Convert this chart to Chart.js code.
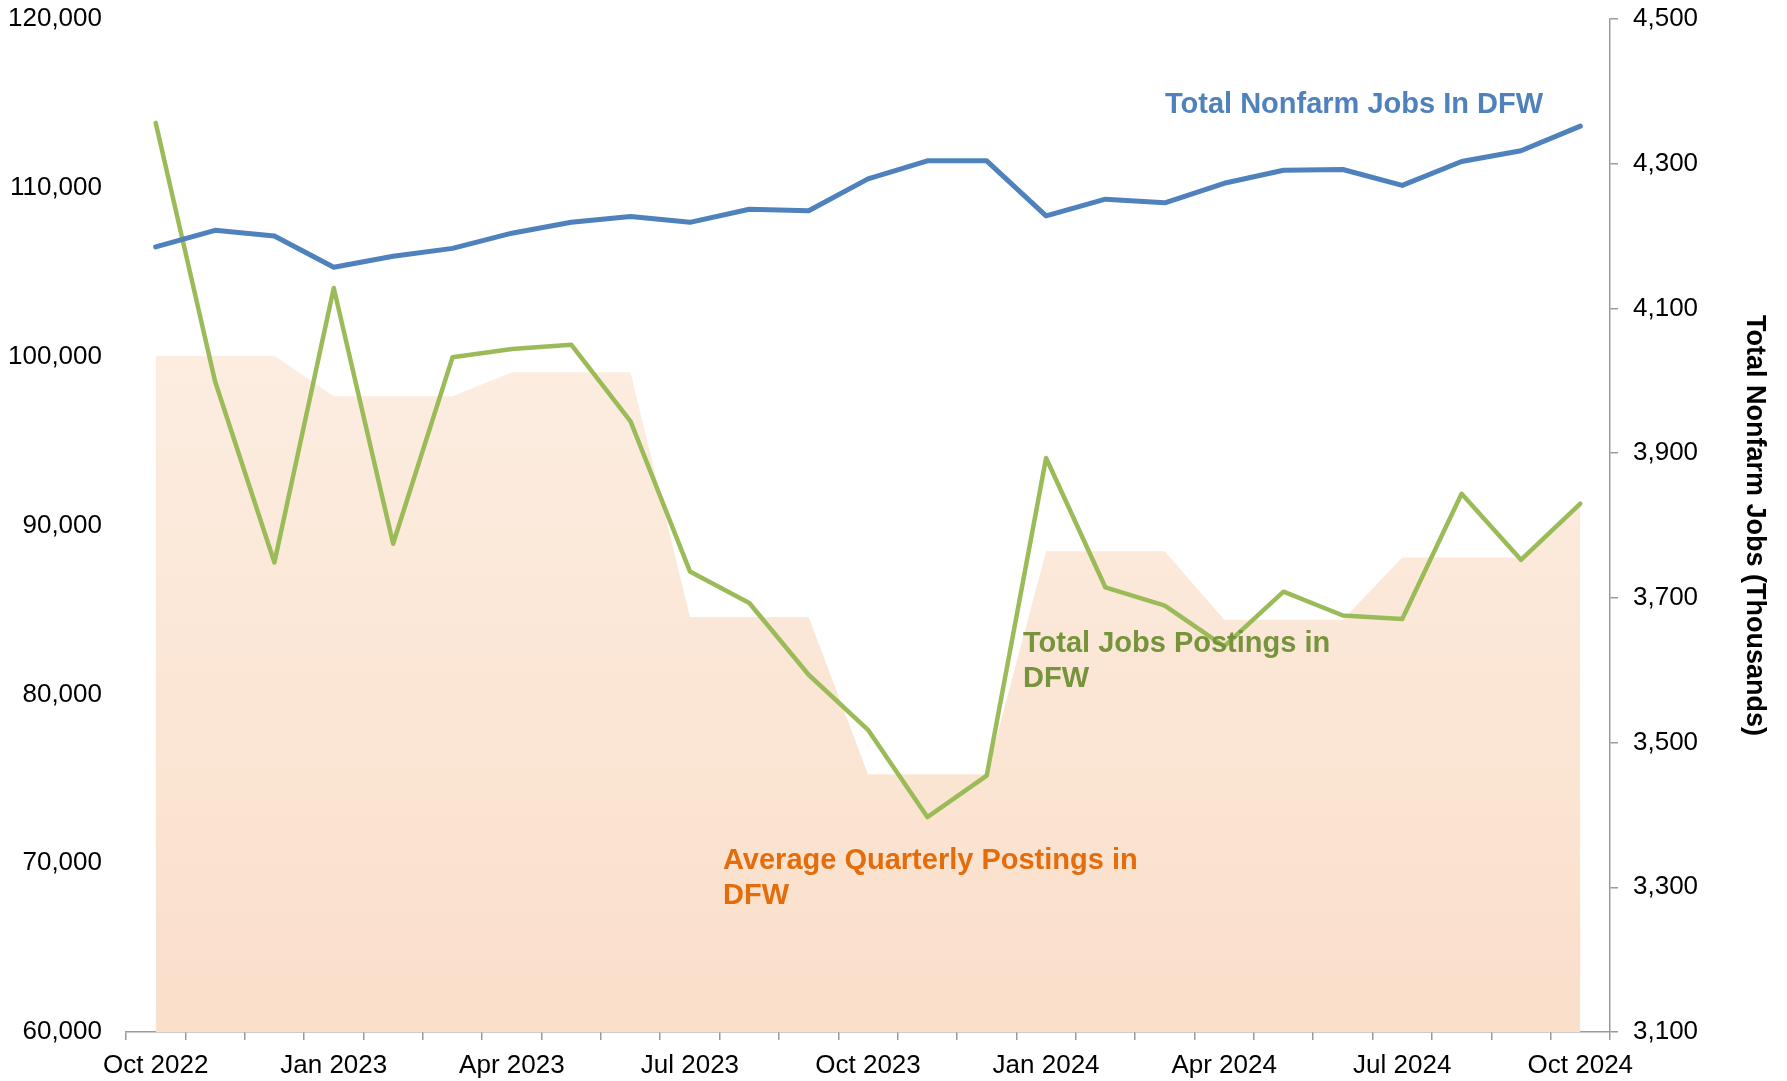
<!DOCTYPE html>
<html>
<head>
<meta charset="utf-8">
<title>DFW Job Postings and Nonfarm Jobs</title>
<script src="https://cdn.jsdelivr.net/npm/chart.js@4/dist/chart.umd.min.js"></script>
<style>
  html, body { margin: 0; padding: 0; background: #ffffff; }
  #wrap { width: 1787px; height: 1081px; position: relative; }
</style>
</head>
<body>
<div id="wrap"><canvas id="chart" width="1787" height="1081"></canvas></div>
<script>
// Monthly categories, Oct 2022 through Oct 2024
const months = [
  'Oct 2022', 'Nov 2022', 'Dec 2022',
  'Jan 2023', 'Feb 2023', 'Mar 2023',
  'Apr 2023', 'May 2023', 'Jun 2023',
  'Jul 2023', 'Aug 2023', 'Sep 2023',
  'Oct 2023', 'Nov 2023', 'Dec 2023',
  'Jan 2024', 'Feb 2024', 'Mar 2024',
  'Apr 2024', 'May 2024', 'Jun 2024',
  'Jul 2024', 'Aug 2024', 'Sep 2024',
  'Oct 2024'
];

// Total job postings in DFW (left axis)
const jobPostings = [
  113850, 98540, 87810,
  104070, 88920, 99960,
  100460, 100710, 96170,
  87280, 85410, 81160,
  77900, 72730, 75180,
  94000, 86330, 85250,
  82840, 86080, 84670,
  84460, 91880, 87970,
  91290
];

// Average quarterly postings in DFW, repeated for each month of the quarter (left axis)
const quarterlyAvgPostings = [
  100060, 100060, 100060,
  97650, 97650, 97650,
  99080, 99080, 99080,
  84580, 84580, 84580,
  75260, 75260, 75260,
  88470, 88470, 88470,
  84420, 84420, 84420,
  88110, 88110, 88110,
  91290
];

// Total nonfarm jobs in DFW, thousands (right axis)
const nonfarmJobs = [
  4185, 4208, 4200,
  4157, 4172, 4183,
  4204, 4219, 4227,
  4219, 4237, 4235,
  4279, 4304, 4304,
  4228, 4251, 4246,
  4273, 4291, 4292,
  4270, 4303, 4318,
  4352
];

// Axis ranges
const leftAxis = { min: 60000, max: 120000, step: 10000 };
const rightAxis = { min: 3100, max: 4500, step: 200 };

// In-chart series labels
const seriesLabels = [
  { lines: ['Total Nonfarm Jobs In DFW'], color: '#4F81BD', x: 1165, y: 113 },
  { lines: ['Total Jobs Postings in', 'DFW'], color: '#77933C', x: 1023, y: 652 },
  { lines: ['Average Quarterly Postings in', 'DFW'], color: '#E46C0A', x: 723, y: 869 }
];

const FONT = '"Liberation Sans", Arial, Helvetica, sans-serif';
const fmt = v => Number(v).toLocaleString('en-US');

const seriesLabelPlugin = {
  id: 'seriesLabels',
  afterDatasetsDraw(chart) {
    const ctx = chart.ctx;
    ctx.save();
    ctx.font = 'bold 29px ' + FONT;
    ctx.textAlign = 'left';
    ctx.textBaseline = 'alphabetic';
    seriesLabels.forEach(l => {
      ctx.fillStyle = l.color;
      l.lines.forEach((t, i) => ctx.fillText(t, l.x, l.y + i * 34.5));
    });
    ctx.restore();
  }
};

function areaGradient(context) {
  const chart = context.chart;
  const a = chart.chartArea;
  if (!a) return 'rgba(250,224,203,1)';
  const g = chart.ctx.createLinearGradient(0, a.top, 0, a.bottom);
  g.addColorStop(0, '#FDF4EC');
  g.addColorStop(1, '#FADFCA');
  return g;
}

// Fixed widths and top inset for the value axes
function fitValueAxis(width) {
  return s => {
    s.width = width;
    s.paddingTop = 19;
    s.paddingBottom = 0;
  };
}

const axisGray = '#9a9a9a';

new Chart(document.getElementById('chart'), {
  type: 'line',
  data: {
    labels: months,
    datasets: [
      {
        label: 'Total Nonfarm Jobs In DFW',
        data: nonfarmJobs,
        yAxisID: 'yRight',
        borderColor: '#4F81BD',
        borderWidth: 5,
        pointRadius: 0,
        tension: 0,
        fill: false,
        borderCapStyle: 'round',
        borderJoinStyle: 'round',
        order: 0
      },
      {
        label: 'Total Jobs Postings in DFW',
        data: jobPostings,
        yAxisID: 'yLeft',
        borderColor: '#9BBB59',
        borderWidth: 4.5,
        pointRadius: 0,
        tension: 0,
        fill: false,
        borderCapStyle: 'round',
        borderJoinStyle: 'round',
        order: 1
      },
      {
        label: 'Average Quarterly Postings in DFW',
        data: quarterlyAvgPostings,
        yAxisID: 'yLeft',
        borderWidth: 0,
        borderColor: 'rgba(0,0,0,0)',
        backgroundColor: areaGradient,
        pointRadius: 0,
        tension: 0,
        fill: 'start',
        order: 2
      }
    ]
  },
  options: {
    responsive: false,
    animation: false,
    events: [],
    layout: { padding: { top: 0, left: 0, right: 0, bottom: 0 } },
    plugins: {
      legend: { display: false },
      tooltip: { enabled: false }
    },
    scales: {
      x: {
        offset: true,
        grid: {
          offset: true,
          drawOnChartArea: false,
          drawTicks: true,
          tickLength: 8,
          color: axisGray,
          lineWidth: 1.5
        },
        border: { display: true, color: axisGray, width: 1.5 },
        ticks: {
          autoSkip: false,
          maxRotation: 0,
          minRotation: 0,
          padding: 10,
          color: '#000',
          font: { family: FONT, size: 26 },
          callback: (v, i) => (i % 3 === 0 ? months[i] : '')
        },
        afterFit: s => { s.height = 49; }
      },
      yLeft: {
        position: 'left',
        min: leftAxis.min,
        max: leftAxis.max,
        grid: { display: false, drawTicks: false },
        border: { display: false },
        ticks: {
          stepSize: leftAxis.step,
          padding: 24,
          color: '#000',
          font: { family: FONT, size: 26 },
          callback: v => fmt(v)
        },
        afterFit: fitValueAxis(126)
      },
      yRight: {
        position: 'right',
        min: rightAxis.min,
        max: rightAxis.max,
        grid: {
          drawOnChartArea: false,
          drawTicks: true,
          tickLength: 8,
          color: axisGray,
          lineWidth: 1.5
        },
        border: { display: true, color: axisGray, width: 1.5 },
        ticks: {
          stepSize: rightAxis.step,
          padding: 15,
          color: '#000',
          font: { family: FONT, size: 26 },
          callback: v => fmt(v)
        },
        title: {
          display: true,
          text: 'Total Nonfarm Jobs (Thousands)',
          color: '#000',
          font: { family: FONT, size: 27, weight: 'bold' },
          padding: { top: 16, bottom: 0 }
        },
        afterFit: fitValueAxis(177)
      }
    }
  },
  plugins: [seriesLabelPlugin]
});
</script>
</body>
</html>
